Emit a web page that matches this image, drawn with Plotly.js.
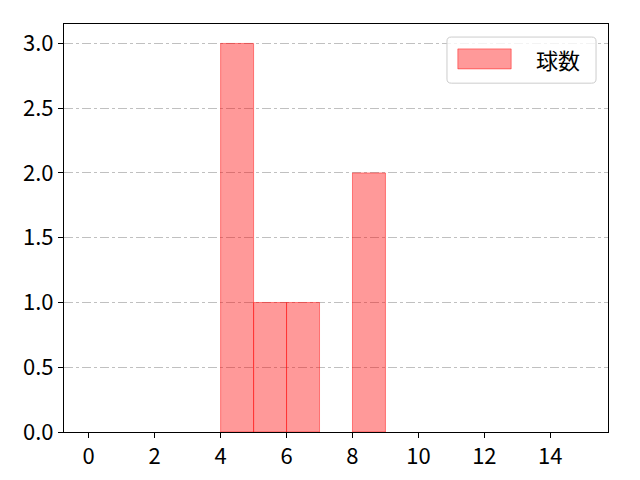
<!DOCTYPE html>
<html>
<head>
<meta charset="utf-8">
<script src="https://cdn.plot.ly/plotly-3.0.1.min.js"></script>
<style>
  body { margin: 0; background: #fff; }
  #chart { width: 640px; height: 480px; }
</style>
</head>
<body>
<div id="chart"></div>
<script>
// 球数ヒストグラム (bin左端と度数)
var binStarts = [4, 5, 6, 8];
var counts = [3, 1, 1, 2];
var seriesName = '球数';
var xTicks = [0, 2, 4, 6, 8, 10, 12, 14];
var yTicks = [0, 0.5, 1.0, 1.5, 2.0, 2.5, 3.0];

var font = '"Noto Sans CJK JP", "DejaVu Sans", sans-serif';
var barFill = 'rgba(255,0,0,0.4)';
var barEdge = 'rgba(255,0,0,0.45)';

var trace = {
  type: 'bar',
  x: binStarts,
  y: counts,
  width: 1,
  offset: 0,
  name: seriesName,
  showlegend: false,
  marker: { color: barFill, line: { color: barEdge, width: 1 } }
};

var axisCommon = {
  showline: true,
  mirror: true,
  linecolor: '#000',
  linewidth: 1,
  ticks: 'outside',
  ticklen: 5,
  tickwidth: 1,
  tickcolor: '#000',
  zeroline: false,
  tickfont: { family: font, size: 22, color: '#000' }
};

// 凡例は matplotlib 風に図形と注釈で描く（paper 座標）
function roundRect(x0, y0, x1, y1, rx, ry) {
  return 'M' + (x0 + rx) + ',' + y0 +
    ' L' + (x1 - rx) + ',' + y0 + ' Q' + x1 + ',' + y0 + ' ' + x1 + ',' + (y0 + ry) +
    ' L' + x1 + ',' + (y1 - ry) + ' Q' + x1 + ',' + y1 + ' ' + (x1 - rx) + ',' + y1 +
    ' L' + (x0 + rx) + ',' + y1 + ' Q' + x0 + ',' + y1 + ' ' + x0 + ',' + (y1 - ry) +
    ' L' + x0 + ',' + (y0 + ry) + ' Q' + x0 + ',' + y0 + ' ' + (x0 + rx) + ',' + y0 + ' Z';
}

var layout = {
  width: 640,
  height: 480,
  margin: { l: 64, r: 32, t: 24, b: 48 },
  paper_bgcolor: '#fff',
  plot_bgcolor: '#fff',
  bargap: 0,
  showlegend: false,
  xaxis: Object.assign({}, axisCommon, {
    range: [-0.75, 15.75],
    tickvals: xTicks,
    ticktext: xTicks.map(String),
    showgrid: false
  }),
  yaxis: Object.assign({}, axisCommon, {
    range: [0, 3.15],
    tickvals: yTicks,
    ticktext: yTicks.map(function (v) { return v.toFixed(1); }),
    showgrid: true,
    gridcolor: '#b0b0b0',
    gridwidth: 0.8,
    griddash: 'dashdot'
  }),
  shapes: [
    {
      type: 'path', xref: 'paper', yref: 'paper',
      path: roundRect(0.704, 0.855, 0.978, 0.968, 0.008, 0.01),
      fillcolor: 'rgba(255,255,255,0.8)',
      line: { color: '#cccccc', width: 1 }
    },
    {
      type: 'rect', xref: 'paper', yref: 'paper',
      x0: 0.724, x1: 0.822, y0: 0.890, y1: 0.939,
      fillcolor: barFill,
      line: { color: barEdge, width: 1 }
    }
  ],
  annotations: [
    {
      xref: 'paper', yref: 'paper', x: 0.908, y: 0.914,
      xanchor: 'center', yanchor: 'middle', showarrow: false,
      text: seriesName,
      font: { family: font, size: 22, color: '#000' }
    }
  ]
};

Plotly.newPlot('chart', [trace], layout, { displayModeBar: false, staticPlot: true });
</script>
</body>
</html>
